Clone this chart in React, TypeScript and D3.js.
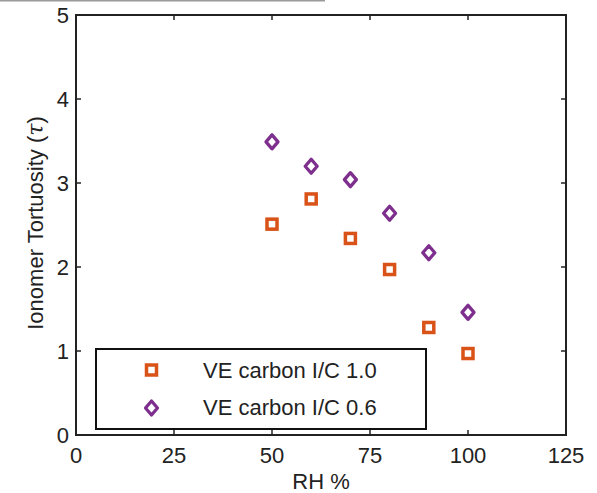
import React from "react";
import * as d3 from "d3";

const rhValues = [50, 60, 70, 80, 90, 100];
const tauIC10 = [2.51, 2.81, 2.34, 1.97, 1.28, 0.97];
const tauIC06 = [3.49, 3.2, 3.04, 2.64, 2.17, 1.46];
const xTicks = [0, 25, 50, 75, 100, 125];
const yTicks = [0, 1, 2, 3, 4, 5];
const seriesNames = ["VE carbon I/C 1.0", "VE carbon I/C 0.6"];

const W = 597;
const H = 493;
const margin = { left: 76, right: 31, top: 15, bottom: 58 };
const ORANGE = "#D95319";
const PURPLE = "#7E2F8E";
const FONT = "Liberation Sans, Arial, sans-serif";
const FS = 22;

function Square({ x, y }: { x: number; y: number }) {
  const s = 10;
  return (
    <rect x={x - s / 2} y={y - s / 2} width={s} height={s} fill="none" stroke={ORANGE} strokeWidth={3.5} />
  );
}
function Diamond({ x, y }: { x: number; y: number }) {
  const w = 6, h = 7;
  return (
    <path
      d={`M${x},${y - h}L${x + w},${y}L${x},${y + h}L${x - w},${y}Z`}
      fill="none"
      stroke={PURPLE}
      strokeWidth={3.3}
      strokeLinejoin="round"
    />
  );
}

export default function App() {
  const x = d3.scaleLinear().domain([0, 125]).range([margin.left, W - margin.right]);
  const y = d3.scaleLinear().domain([0, 5]).range([H - margin.bottom, margin.top]);
  const x0 = x(0), x1 = x(125), y0 = y(0), y1 = y(5);
  const tl = 5;
  return (
    <svg width={W} height={H} style={{ position: "absolute", left: 0, top: 0, background: "white" }} fontFamily={FONT}>
      <rect x={0} y={0} width={W} height={H} fill="white" />
      <line x1={0} x2={325} y1={0.75} y2={0.75} stroke="#999" strokeWidth={1.5} />
      {xTicks.slice(1, -1).map((t) => (
        <g key={"xt" + t}>
          <line x1={x(t)} x2={x(t)} y1={y0} y2={y0 - tl} stroke="#222" strokeWidth={1.5} />
          <line x1={x(t)} x2={x(t)} y1={y1} y2={y1 + tl} stroke="#222" strokeWidth={1.5} />
        </g>
      ))}
      {yTicks.slice(1, -1).map((t) => (
        <g key={"yt" + t}>
          <line x1={x0} x2={x0 + tl} y1={y(t)} y2={y(t)} stroke="#222" strokeWidth={1.5} />
          <line x1={x1} x2={x1 - tl} y1={y(t)} y2={y(t)} stroke="#222" strokeWidth={1.5} />
        </g>
      ))}
      <rect x={x0} y={y1} width={x1 - x0} height={y0 - y1} fill="none" stroke="#222" strokeWidth={2} />
      {xTicks.map((t) => (
        <text key={"xl" + t} x={x(t)} y={y0 + 28} fontSize={FS} textAnchor="middle" fill="#222">
          {t}
        </text>
      ))}
      {yTicks.map((t) => (
        <text key={"yl" + t} x={x0 - 7} y={y(t) + 8} fontSize={FS} textAnchor="end" fill="#222">
          {t}
        </text>
      ))}
      <text x={(x0 + x1) / 2} y={489} fontSize={FS} textAnchor="middle" fill="#222">
        RH %
      </text>
      <text transform={`translate(43,${(y0 + y1) / 2 - 2}) rotate(-90)`} fontSize={FS} textAnchor="middle" fill="#222">
        Ionomer Tortuosity (<tspan fontFamily="DejaVu Serif, serif" fontStyle="italic">τ</tspan>)
      </text>
      {rhValues.map((v, i) => (
        <Square key={"s" + i} x={x(v)} y={y(tauIC10[i])} />
      ))}
      {rhValues.map((v, i) => (
        <Diamond key={"d" + i} x={x(v)} y={y(tauIC06[i])} />
      ))}
      <rect x={96} y={349} width={330} height={80} fill="white" stroke="#111" strokeWidth={2} />
      <Square x={151.5} y={370} />
      <Diamond x={151.5} y={408} />
      <text x={203} y={378} fontSize={FS} fill="#222">{seriesNames[0]}</text>
      <text x={203} y={415} fontSize={FS} fill="#222">{seriesNames[1]}</text>
    </svg>
  );
}
